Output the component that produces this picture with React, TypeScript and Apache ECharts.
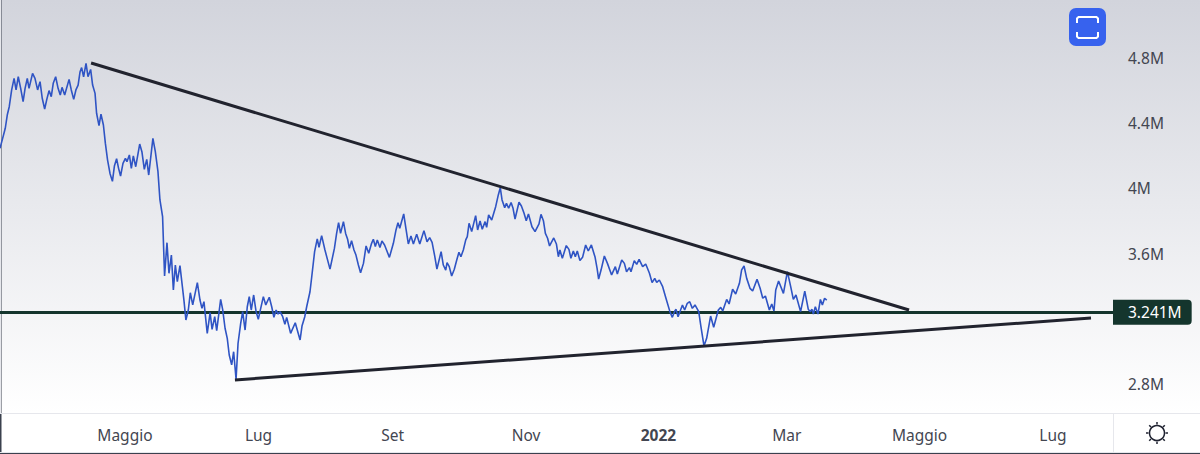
import React, { useEffect, useRef } from "react";
import * as echarts from "echarts";

// Days since the start of the visible window, and the close for each one (millions)
const days = [
  0,1.2,2.4,3.3,4.2,5.3,6.4,7.3,8.3,9.4,10.5,11.4,12.4,13.2,14.8,15.9,17.1,18.2,19.2,20.3,21.2,22.3,23.3,24.2,25.3,26.4,27.4,28.2,29.4,31.4,32.4,33.5,34.5,35.5,36.4,37.1,38,39.1,40,41.2,42.1,43.2,43.9,45,45.9,47,47.9,48.9,50,51.1,52,53,53.9,54.8,55.9,57,57.7,58.8,59.7,60.6,61.7,63.5,64.5,65.6,66.7,67.6,69.5,70.6,71.8,72.7,73.9,74.8,75.9,76.8,77.9,78.8,79.7,80.6,81.8,82.9,83.6,84.5,85.6,86.5,87.6,89.7,90.9,91.8,92.7,94.2,95.5,96.4,97.6,98.5,100.3,101.2,102.3,103.3,104.2,105.3,106.2,107.3,108.2,109.4,110.3,111.4,112.4,113.3,114.2,115.3,116.4,117.4,118.5,119.7,120.8,122.4,123.5,124.5,125.5,126.4,127.3,128.5,129.5,130.3,132.1,134.2,136.4,137.3,138.5,139.4,140.9,
  141.7,143,144.2,145,146.2,147.7,150,152,153,153.9,154.8,156.1,157.1,158,158.8,159.8,160.9,161.8,162.9,163.9,165.2,166.4,167.6,168.9,169.7,170.6,171.5,172.7,173.6,174.8,177,178.8,180,180.9,181.7,183.5,184.5,185.6,186.8,187.9,189.4,190.8,192.7,194.1,195.3,196.4,197.6,198.6,200.5,201.5,202.6,203.2,204.2,205.3,206.5,207.7,208.6,209.5,210.6,211.7,212.4,213.2,214.4,216.2,217.1,218.2,219.2,220.5,221.2,222.1,223.5,225.3,226.5,227.4,228.2,229.4,230.2,231.2,232.3,233.2,234.1,235.9,237,238.2,239.2,240.2,241.8,243.2,245,245.9,247,247.9,248.9,249.8,251.7,252.9,253.8,254.5,255.6,257.4,258.6,259.5,260.6,261.5,262.4,263.6,264.8,266.2,267.4,268.8,270.5,271.4,272.1,
  273.2,274.7,276.1,278,279.7,280.6,282.6,283.8,284.8,286.1,286.8,288.3,289.4,290.5,292.1,293.5,295.2,296.4,297.6,298.5,299.7,301.2,302.7,304.5,305.6,306.7,307.3,308.2,310.2,311.2,312.4,313.5,314.7,315.9,317.6,318.6,320,321.2,323,324.4,326.5,327.6,328.5,330.3,331.4,333,334.4,336.1,337.1,338.2,339.4,340.9,342.1,344.1,345.5,346.7,347.9,349.7,350.8,351.8,352.6,353.9,356.1,357.9,359.4,360.6,361.8,363.9,365.8,367.4,368.2,369.1,369.7,370.6,371.8,372.9,373.8,374.8,375.8,
];
const values = [
  4.246,4.307,4.369,4.45,4.501,4.604,4.675,4.604,4.685,4.614,4.532,4.614,4.675,4.614,4.706,4.675,4.604,4.655,4.553,4.487,4.542,4.6,4.563,4.645,4.685,4.614,4.573,4.62,4.573,4.669,4.604,4.546,4.604,4.634,4.716,4.741,4.685,4.767,4.685,4.73,4.634,4.583,4.461,4.385,4.456,4.389,4.276,4.174,4.092,4.043,4.137,4.182,4.123,4.076,4.154,4.184,4.164,4.205,4.123,4.199,4.133,4.272,4.225,4.117,4.178,4.082,4.307,4.225,4.103,3.929,3.827,3.463,3.667,3.479,3.591,3.377,3.53,3.428,3.526,3.397,3.315,3.193,3.254,3.36,3.285,3.422,3.315,3.264,3.305,3.111,3.238,3.135,3.213,3.127,3.319,3.258,3.142,3.08,2.978,2.917,2.998,2.829,3.05,3.172,3.244,3.131,3.274,3.336,3.254,3.346,3.244,3.197,3.264,3.336,3.285,3.332,3.274,3.209,3.254,3.229,3.244,3.213,3.166,3.209,3.111,3.176,3.07,3.158,3.211,3.274,3.366,
  3.458,3.612,3.69,3.639,3.71,3.622,3.505,3.632,3.724,3.79,3.724,3.796,3.724,3.688,3.632,3.679,3.622,3.591,3.53,3.483,3.54,3.647,3.602,3.663,3.688,3.643,3.684,3.638,3.677,3.653,3.577,3.663,3.745,3.79,3.755,3.843,3.755,3.659,3.708,3.659,3.718,3.659,3.741,3.673,3.698,3.669,3.585,3.505,3.612,3.53,3.499,3.544,3.52,3.463,3.504,3.565,3.608,3.581,3.622,3.684,3.704,3.786,3.735,3.833,3.745,3.8,3.749,3.796,3.761,3.837,3.806,3.888,3.96,4.004,3.929,3.882,3.908,3.878,3.913,3.878,3.812,3.915,3.892,3.847,3.802,3.843,3.765,3.735,3.782,3.841,3.802,3.724,3.694,3.647,3.696,3.659,3.581,3.622,3.571,3.649,3.626,3.571,3.616,3.581,3.616,3.557,3.577,3.653,3.616,3.653,3.577,3.51,3.444,
  3.499,3.585,3.54,3.469,3.52,3.475,3.561,3.54,3.489,3.514,3.489,3.557,3.534,3.565,3.52,3.536,3.479,3.422,3.448,3.424,3.438,3.397,3.326,3.244,3.209,3.248,3.258,3.213,3.285,3.254,3.295,3.305,3.264,3.285,3.244,3.152,3.033,3.08,3.217,3.148,3.254,3.27,3.248,3.319,3.291,3.381,3.352,3.418,3.5,3.524,3.448,3.387,3.371,3.442,3.387,3.326,3.34,3.254,3.291,3.248,3.377,3.432,3.356,3.489,3.397,3.319,3.346,3.244,3.37,3.258,3.244,3.258,3.229,3.274,3.229,3.319,3.285,3.326,3.315,
];

const upperTrend = [[41.4, 4.769], [413.2, 3.254]];
const lowerTrend = [[106.8, 2.825], [495.9, 3.205]];
const lastPrice = 3.241;
const lastPriceLabel = "3.241M";

const monthTicks = [56.8, 117.5, 178.5, 239.1, 299.3, 357.6, 418, 478.6];
const monthLabels = ["Maggio", "Lug", "Set", "Nov", "2022", "Mar", "Maggio", "Lug"];
const priceTicks = [2.8, 3.6, 4, 4.4, 4.8];
const sunRayAngles = [0, 45, 90, 135, 180, 225, 270, 315];

const FONT = "'Noto Sans', sans-serif";
const TEXT = "#434651";

export default function App() {
  const ref = useRef<HTMLDivElement>(null);
  useEffect(() => {
    document.body.style.margin = "0";
    const chart = echarts.init(ref.current!, null, { renderer: "svg" });
    const sunX = 1157;
    const sunY = 433;
    chart.setOption({
      animation: false,
      backgroundColor: {
        type: "linear", x: 0, y: 0, x2: 0, y2: 1,
        colorStops: [
          { offset: 0, color: "#d2d4dc" },
          { offset: 0.91, color: "#ffffff" },
          { offset: 1, color: "#ffffff" },
        ],
      },
      grid: { left: 0, top: 0, width: 1113, height: 413 },
      xAxis: {
        type: "value", min: 0, max: 505.9,
        splitLine: { show: false }, axisTick: { show: false },
        axisLine: { show: true, lineStyle: { color: "#e6e7ec", width: 1 } },
        axisLabel: {
          customValues: monthTicks, margin: 14, color: TEXT, fontFamily: FONT, fontSize: 15.5,
          formatter: (v: number) => {
            const label = monthLabels[monthTicks.indexOf(v)] ?? "";
            return label === "2022" ? `{b|${label}}` : label;
          },
          rich: { b: { fontWeight: "bold", fontFamily: FONT, fontSize: 15.5, color: TEXT } },
        },
      },
      yAxis: {
        type: "value", position: "right", min: 2.6221, max: 5.1558,
        splitLine: { show: false }, axisTick: { show: false },
        axisLine: { show: true, lineStyle: { color: "#e6e7ec", width: 1 } },
        axisLabel: {
          customValues: priceTicks, margin: 15, color: TEXT, fontFamily: FONT, fontSize: 15.5,
          padding: [0, 0, 2, 0],
          formatter: (v: number) => `${v}M`,
        },
      },
      series: [
        {
          type: "line", data: days.map((d, i) => [d, values[i]]), showSymbol: false,
          lineStyle: { color: "#2f54c4", width: 1.6 }, z: 3,
          markLine: {
            silent: true, symbol: "none", z: 2,
            lineStyle: { color: "#14352d", width: 3, type: "solid" },
            label: {
              position: "end", distance: 0, formatter: lastPriceLabel,
              color: "#ffffff", fontFamily: FONT, fontSize: 15.5,
              backgroundColor: "#14352d", borderRadius: [0, 4, 4, 0],
              padding: [4, 10, 5, 15],
            },
            data: [{ yAxis: lastPrice }],
          },
        },
        {
          type: "line", data: upperTrend, showSymbol: false, z: 4,
          lineStyle: { color: "#21232e", width: 3 },
        },
        {
          type: "line", data: lowerTrend, showSymbol: false, z: 4,
          lineStyle: { color: "#21232e", width: 3 },
        },
      ],
      graphic: [
        { type: "rect", shape: { x: 0, y: 0, width: 1.5, height: 454 }, style: { fill: "#3b414e" }, silent: true },
        { type: "rect", shape: { x: 0, y: 453, width: 1200, height: 1 }, style: { fill: "#3b414e" }, silent: true },
        { type: "line", shape: { x1: 1113.5, y1: 413, x2: 1113.5, y2: 452 }, style: { stroke: "#e6e7ec", lineWidth: 1 }, silent: true },
        { type: "line", shape: { x1: 1113, y1: 413.5, x2: 1200, y2: 413.5 }, style: { stroke: "#e6e7ec", lineWidth: 1 }, silent: true },
        { type: "line", shape: { x1: 0, y1: 452.5, x2: 1200, y2: 452.5 }, style: { stroke: "#e6e7ec", lineWidth: 1 }, silent: true },
        { type: "rect", shape: { x: 1069, y: 8, width: 37, height: 38, r: 7 }, style: { fill: "#3762ee" }, silent: true },
        { type: "polyline", shape: { points: [[1077, 23], [1077, 18.5], [1078.5, 17], [1096.5, 17], [1098, 18.5], [1098, 23]] }, style: { stroke: "#ffffff", lineWidth: 2, fill: "none" }, silent: true },
        { type: "polyline", shape: { points: [[1077, 32], [1077, 36.5], [1078.5, 38], [1096.5, 38], [1098, 36.5], [1098, 32]] }, style: { stroke: "#ffffff", lineWidth: 2, fill: "none" }, silent: true },
        { type: "circle", shape: { cx: sunX, cy: sunY, r: 7.5 }, style: { stroke: "#1f2230", lineWidth: 1.5, fill: "none" }, silent: true },
        ...sunRayAngles.map((a) => {
          const r = (a * Math.PI) / 180;
          return {
            type: "line", silent: true,
            shape: {
              x1: sunX + Math.cos(r) * 8.5, y1: sunY + Math.sin(r) * 8.5,
              x2: sunX + Math.cos(r) * 11, y2: sunY + Math.sin(r) * 11,
            },
            style: { stroke: "#1f2230", lineWidth: 1.5 },
          };
        }),
      ],
    });
    return () => chart.dispose();
  }, []);
  return <div ref={ref} style={{ width: 1200, height: 454 }} />;
}
